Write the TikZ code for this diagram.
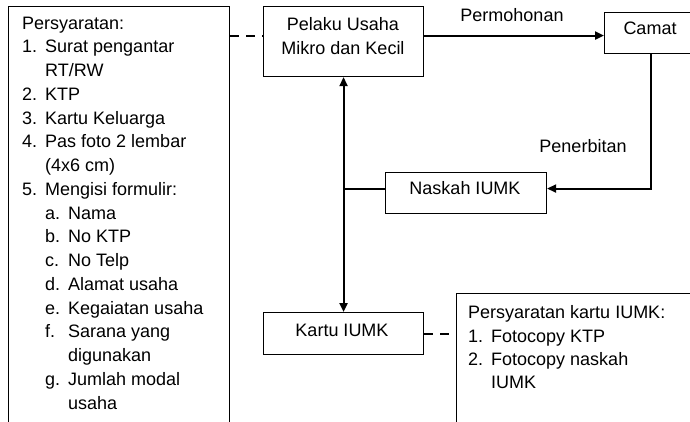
\documentclass[tikz,border=0pt]{standalone}
\usepackage{fontspec}
\setmainfont{Liberation Sans}
\usetikzlibrary{arrows.meta}
\newcommand{\Num}[1]{\makebox[23pt][l]{#1}}
\tikzset{
  box/.style={draw, line width=1.1pt, rectangle, inner sep=0pt, anchor=north west},
  txt/.style={inner sep=0pt, font=\fontsize{18pt}{23.3pt}\selectfont, text=black},
  listtxt/.style={inner sep=0pt, font=\fontsize{18pt}{23.75pt}\selectfont, text=black},
  flow/.style={line width=2pt, -{Triangle[length=9pt,width=8pt]}},
  flowboth/.style={line width=2pt, {Triangle[length=9pt,width=8pt]}-{Triangle[length=9pt,width=8pt]}},
  plain/.style={line width=2pt},
  dashline/.style={line width=2pt, dash pattern=on 9pt off 7pt}
}
\begin{document}
\begin{tikzpicture}[x=1pt,y=-1pt]
\useasboundingbox (0,0) rectangle (690,421);
\clip (0,0) rectangle (690,421);
% boxes
\node[box, minimum width=221pt, minimum height=440pt] (req) at (8,6) {};
\node[box, minimum width=160pt, minimum height=70pt] (pelaku) at (263,6) {};
\node[box, minimum width=92pt, minimum height=41pt] (camat) at (604,12) {};
\node[box, minimum width=161pt, minimum height=41pt] (naskah) at (385,172) {};
\node[box, minimum width=160pt, minimum height=42pt] (kartu) at (263,312) {};
\node[box, minimum width=260pt, minimum height=150pt] (kreq) at (456,293) {};
% texts
\node[listtxt, align=left, anchor=north west] (reqtext) at (22,16.5) {Persyaratan:\\
\Num{1.}Surat pengantar\\
\Num{}RT/RW\\
\Num{2.}KTP\\
\Num{3.}Kartu Keluarga\\
\Num{4.}Pas foto 2 lembar\\
\Num{}(4x6 cm)\\
\Num{5.}Mengisi formulir:\\
\Num{}\Num{a.}Nama\\
\Num{}\Num{b.}No KTP\\
\Num{}\Num{c.}No Telp\\
\Num{}\Num{d.}Alamat usaha\\
\Num{}\Num{e.}Kegaiatan usaha\\
\Num{}\Num{f.}Sarana yang\\
\Num{}\Num{}digunakan\\
\Num{}\Num{g.}Jumlah modal\\
\Num{}\Num{}usaha};
\node[txt, align=center] (pelakutext) at (343,36) {Pelaku Usaha\\Mikro dan Kecil};
\node[txt] (camattext) at (650,28.5) {Camat};
\node[txt] (naskahtext) at (465,188) {Naskah IUMK};
\node[txt] (kartutext) at (342,330) {Kartu IUMK};
\node[txt] (permohonan) at (512,15) {Permohonan};
\node[txt] (penerbitan) at (583,146) {Penerbitan};
\node[txt, align=left, anchor=north west] (kreqtext) at (468,305.5) {Persyaratan kartu IUMK:\\
\Num{1.}Fotocopy KTP\\
\Num{2.}Fotocopy naskah\\
\Num{}IUMK};
% connectors
\draw[dashline] ([yshift=6pt]pelaku.west -| req.east) -- ([yshift=6pt]pelaku.west);
\draw[flow] ([yshift=6pt]pelaku.east) -- ([yshift=6pt]pelaku.east -| camat.west);
\draw[flow] (camat.south) |- ([yshift=4.5pt]naskah.east);
\draw[plain] ([yshift=4.5pt]naskah.west) -- ([yshift=4.5pt]naskah.west -| pelaku.south);
\draw[flowboth] (pelaku.south) -- (kartu.north);
\draw[dashline] (kartu.east) -- (kartu.east -| kreq.west);
\end{tikzpicture}
\end{document}
